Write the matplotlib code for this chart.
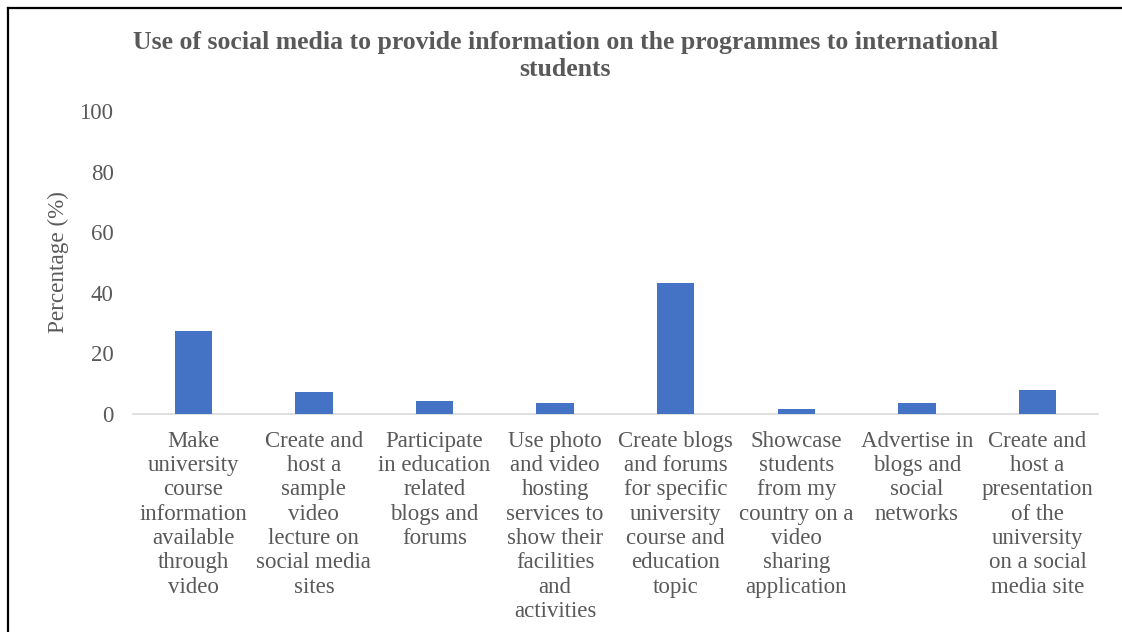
import matplotlib
matplotlib.use("Agg")
import matplotlib.pyplot as plt
from matplotlib.lines import Line2D
import numpy as np

plt.rcParams.update({
    "font.family": ["Liberation Serif", "DejaVu Serif"],
    "font.size": 16.5,
})

TITLE = "Use of social media to provide information on the programmes to international\nstudents"
categories = [
    "Make\nuniversity\ncourse\ninformation\navailable\nthrough\nvideo",
    "Create and\nhost a\nsample\nvideo\nlecture on\nsocial media\nsites",
    "Participate\nin education\nrelated\nblogs and\nforums",
    "Use photo\nand video\nhosting\nservices to\nshow their\nfacilities\nand\nactivities",
    "Create blogs\nand forums\nfor specific\nuniversity\ncourse and\neducation\ntopic",
    "Showcase\nstudents\nfrom my\ncountry on a\nvideo\nsharing\napplication",
    "Advertise in\nblogs and\nsocial\nnetworks",
    "Create and\nhost a\npresentation\nof the\nuniversity\non a social\nmedia site",
]
percent = [27.4, 7.2, 4.2, 3.5, 43.1, 1.7, 3.5, 8.0]
yticks = [0, 20, 40, 60, 80, 100]

BAR = "#4472C4"
TXT = "#595959"

fig = plt.figure(figsize=(11.22, 6.32), dpi=100)
ax = fig.add_axes([0.1185, 0.345, 0.86, 0.4795])

x = np.arange(len(categories))
ax.bar(x, percent, width=0.31, color=BAR, zorder=3)
ax.set_xlim(-0.5, len(categories) - 0.5)
ax.set_ylim(0, 100)
ax.set_yticks(yticks)
ax.tick_params(axis="y", length=0, pad=14, labelcolor=TXT, labelsize=16.5)
ax.set_xticks(x)
ax.set_xticklabels(categories, linespacing=1.21)
ax.tick_params(axis="x", length=0, pad=12, labelcolor=TXT, labelsize=16.5)
for s in ("top", "right", "left"):
    ax.spines[s].set_visible(False)
ax.spines["bottom"].set_color("#D9D9D9")
ax.spines["bottom"].set_linewidth(1.2)

fig.text(0.052, 0.586, "Percentage (%)", rotation=90, ha="center", va="center",
         color=TXT, fontsize=16.7)
fig.text(0.504, 0.912, TITLE, ha="center", va="center", fontsize=18.5,
         fontweight="bold", color="#595959", linespacing=1.22)

# frame on the top and left edges
fig.add_artist(Line2D([0.007, 0.007], [0.0, 0.987], color="black", lw=1.6,
                      transform=fig.transFigure))
fig.add_artist(Line2D([0.007, 1.0], [0.987, 0.987], color="black", lw=1.6,
                      transform=fig.transFigure))

fig.savefig("out.png", dpi=100)
